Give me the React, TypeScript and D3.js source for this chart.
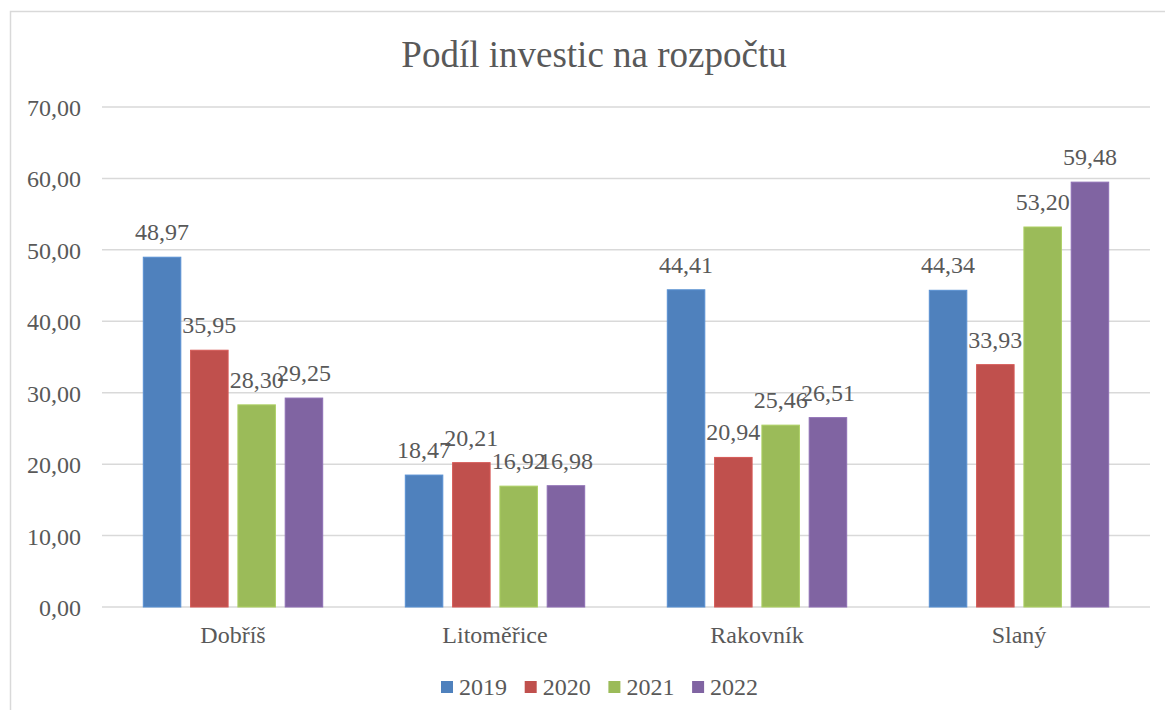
import { useRef, useEffect } from 'react';
import * as d3 from 'd3';

const categories = ['Dobříš', 'Litoměřice', 'Rakovník', 'Slaný'];
const years = ['2019', '2020', '2021', '2022'];
const values2019 = [48.97, 18.47, 44.41, 44.34];
const values2020 = [35.95, 20.21, 20.94, 33.93];
const values2021 = [28.3, 16.92, 25.46, 53.2];
const values2022 = [29.25, 16.98, 26.51, 59.48];
const yTicks = [0, 10, 20, 30, 40, 50, 60, 70];
const colors = ['#4F81BD', '#C0504D', '#9BBB59', '#8064A2'];

const W = 1165;
const H = 710;
const FONT = "'Liberation Serif', 'DejaVu Serif', serif";
const TEXT = '#595959';

const fmt = (v: number) => v.toFixed(2).replace('.', ',');

export default function App() {
  const svgRef = useRef<SVGSVGElement>(null);

  useEffect(() => {
    if (!svgRef.current) return;
    const svg = d3.select(svgRef.current);
    svg.selectAll('*').remove();

    const series = [values2019, values2020, values2021, values2022];
    const plot = { left: 102, right: 1150, top: 107, bottom: 607 };

    // chart frame (right/bottom edges fall outside the picture)
    svg.append('rect')
      .attr('x', 10.5).attr('y', 11.5)
      .attr('width', W + 20).attr('height', H + 20)
      .attr('fill', '#fff').attr('stroke', '#d9d9d9').attr('stroke-width', 1.5);

    svg.append('text')
      .attr('x', 594).attr('y', 67)
      .attr('text-anchor', 'middle')
      .style('font-family', FONT).style('font-size', '37px')
      .attr('fill', TEXT)
      .text('Podíl investic na rozpočtu');

    const y = d3.scaleLinear().domain([0, 70]).range([plot.bottom, plot.top]);
    const x0 = d3.scaleBand().domain(categories).range([plot.left, plot.right]);
    const pad = 41.3;
    const x1 = d3.scaleBand().domain(years)
      .range([pad, x0.bandwidth() - pad])
      .paddingInner(0.207);

    // gridlines + y labels
    const grid = svg.append('g');
    yTicks.forEach((t) => {
      grid.append('line')
        .attr('x1', plot.left).attr('x2', plot.right)
        .attr('y1', y(t)).attr('y2', y(t))
        .attr('stroke', '#d9d9d9').attr('stroke-width', 1.5);
      grid.append('text')
        .attr('x', 81).attr('y', y(t) + 9)
        .attr('text-anchor', 'end')
        .style('font-family', FONT).style('font-size', '24px')
        .attr('fill', TEXT)
        .text(fmt(t));
    });

    // bars
    const groups = svg.append('g').selectAll('g')
      .data(categories)
      .join('g')
      .attr('transform', (c) => `translate(${x0(c)},0)`);

    years.forEach((yr, si) => {
      groups.append('rect')
        .attr('x', x1(yr)!)
        .attr('width', x1.bandwidth())
        .attr('y', (_, ci) => y(series[si][ci]))
        .attr('height', (_, ci) => y(0) - y(series[si][ci]))
        .attr('fill', colors[si])
        .attr('stroke', d3.color(colors[si])!.brighter(0.3).formatHex())
        .attr('stroke-width', 1);

      groups.append('text')
        .attr('x', x1(yr)! + x1.bandwidth() / 2)
        .attr('y', (_, ci) => y(series[si][ci]) - 17)
        .attr('text-anchor', 'middle')
        .style('font-family', FONT).style('font-size', '24px')
        .attr('fill', TEXT)
        .text((_, ci) => fmt(series[si][ci]));
    });

    // category labels
    svg.append('g').selectAll('text')
      .data(categories)
      .join('text')
      .attr('x', (c) => x0(c)! + x0.bandwidth() / 2)
      .attr('y', 643)
      .attr('text-anchor', 'middle')
      .style('font-family', FONT).style('font-size', '24px')
      .attr('fill', TEXT)
      .text((c) => c);

    // legend
    const legend = svg.append('g');
    years.forEach((yr, i) => {
      const lx = 441 + i * 83.7;
      legend.append('rect')
        .attr('x', lx).attr('y', 681)
        .attr('width', 12).attr('height', 12)
        .attr('fill', colors[i]);
      legend.append('text')
        .attr('x', lx + 18).attr('y', 695)
        .style('font-family', FONT).style('font-size', '24px')
        .attr('fill', TEXT)
        .text(yr);
    });
  }, []);

  return (
    <svg
      ref={svgRef}
      width={W}
      height={H}
      style={{ position: 'absolute', left: 0, top: 0, display: 'block' }}
    />
  );
}
